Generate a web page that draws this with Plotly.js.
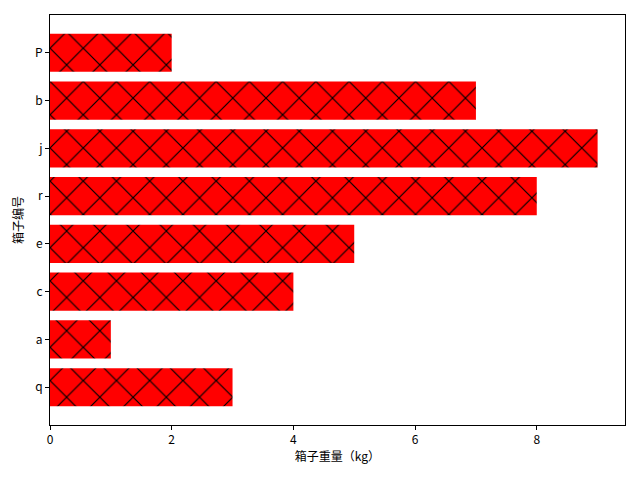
<!DOCTYPE html>
<html><head><meta charset="utf-8">
<script src="https://cdn.plot.ly/plotly-3.0.1.min.js"></script>
<style>body{margin:0}#c{width:640px;height:480px}</style>
</head><body><div id="c"></div>
<script>
const categories = ["q","a","c","e","r","j","b","P"];
const weights = [3,1,4,5,8,9,7,2];
const xTicks = [0,2,4,6,8];
const font = "Noto Sans CJK SC, DejaVu Sans, sans-serif";
Plotly.newPlot("c", [{
  type: "bar", orientation: "h",
  x: weights, y: categories.map((_, i) => i),
  width: 0.8,
  marker: {color: "#ff0000", line: {width: 0},
    pattern: {shape: "x", fgcolor: "#000000", bgcolor: "#ff0000", fgopacity: 1, size: 23.5, solidity: 0.1, fillmode: "replace"}},
  hoverinfo: "skip"
}], {
  width: 640, height: 480,
  margin: {l: 50, r: 15, t: 15, b: 55},
  paper_bgcolor: "#fff", plot_bgcolor: "#fff",
  font: {family: font, size: 12, color: "#000"},
  showlegend: false,
  xaxis: {range: [0, 9.45], tickvals: xTicks, ticks: "outside", ticklen: 4, tickcolor: "#000",
    showgrid: false, zeroline: false, showline: true, linecolor: "#000", linewidth: 1, mirror: true,
    title: {text: "箱子重量（kg）", font: {size: 12}, standoff: 6}},
  yaxis: {range: [-0.79, 7.79], tickvals: categories.map((_, i) => i), ticktext: categories,
    ticks: "outside", ticklen: 4, tickcolor: "#000",
    showgrid: false, zeroline: false, showline: true, linecolor: "#000", linewidth: 1, mirror: true,
    title: {text: "箱子编号", font: {size: 12}, standoff: 8}}
}, {displayModeBar: false});
</script></body></html>
